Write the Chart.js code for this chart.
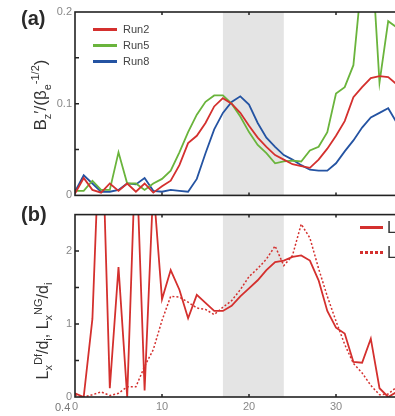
<!DOCTYPE html>
<html lang="en">
<head>
    <meta charset="UTF-8">
    <title>Bz and Lx profiles</title>
    <style>
        html, body {
            margin: 0;
            padding: 0;
            background: #fff;
            overflow: hidden;
            width: 395px;
            height: 416px;
            font-family: Arial, "Liberation Sans", sans-serif;
        }
        .page {
            position: relative;
            width: 395px;
            height: 416px;
            overflow: hidden;
        }
        canvas {
            position: absolute;
            left: 0;
        }
        #chartA { top: 0; }
        #chartB { top: 205px; }
        .panel-label {
            position: absolute;
            left: 21px;
            font-size: 20px;
            font-weight: bold;
            color: #2a2a2a;
        }
        .ytitle {
            position: absolute;
            transform: translate(-50%, -50%) rotate(-90deg);
            white-space: nowrap;
            color: #333;
            font-size: 17px;
        }
        .ytitle sub, .ytitle sup { font-size: 11px; }
        .legend-item {
            position: absolute;
            white-space: nowrap;
            color: #444;
            font-size: 11px;
        }
        .legend-item .swatch {
            position: absolute;
            left: 0;
            top: 50%;
            width: 24px;
            height: 3px;
            margin-top: -1.5px;
        }
        .legend-item .txt {
            position: absolute;
            left: 30px;
            top: 50%;
            transform: translateY(-50%);
        }
        .odd-label {
            position: absolute;
            left: 55px;
            top: 401px;
            font-size: 11px;
            color: #777;
        }
    </style>
</head>
<body>
<div class="page">
    <canvas id="chartA" width="440" height="205"></canvas>
    <canvas id="chartB" width="440" height="211"></canvas>

    <div class="panel-label" style="top:7px;">(a)</div>
    <div class="panel-label" style="top:203px;">(b)</div>

    <div class="ytitle" style="left:41px; top:95px;">B<sub>z</sub>&prime;/(&beta;<sub>e</sub><sup>-1/2</sup>)</div>
    <div class="ytitle" style="left:43px; top:331px; font-size:16px;">L<sub>x</sub><sup>Df</sup>/d<sub>i</sub>, L<sub>x</sub><sup>NG</sup>/d<sub>i</sub></div>

    <div id="legendA"></div>
    <div id="legendB"></div>
    <div class="odd-label">0.4</div>
</div>

<script src="https://cdn.jsdelivr.net/npm/chart.js"></script>
<script>
    // x positions (shared by both panels)
    const xValues = [0,1,2,3,4,5,6,7,8,9,10,11,12,13,14,15,16,17,18,19,20,21,22,23,24,25,26,27,28,29,30,31,32,33,34,35,36,37];

    // panel (a): Bz'/(beta_e^-1/2)
    const run2 = [0.002,0.019,0.006,0.003,0.013,0.005,0.013,0.004,0.013,0.003,0.010,0.016,0.033,0.057,0.065,0.079,0.097,0.106,0.100,0.090,0.076,0.063,0.053,0.044,0.039,0.034,0.032,0.030,0.039,0.051,0.065,0.081,0.107,0.118,0.128,0.130,0.129,0.121];
    const run5 = [0.005,0.005,0.016,0.006,0.006,0.047,0.013,0.013,0.006,0.013,0.018,0.027,0.047,0.069,0.088,0.102,0.109,0.109,0.100,0.086,0.069,0.055,0.046,0.035,0.037,0.038,0.037,0.049,0.053,0.069,0.111,0.118,0.142,0.24,0.28,0.123,0.190,0.183];
    const run8 = [0.004,0.022,0.013,0.004,0.004,0.006,0.013,0.012,0.019,0.005,0.004,0.006,0.005,0.004,0.018,0.046,0.072,0.090,0.102,0.108,0.099,0.079,0.063,0.053,0.044,0.039,0.033,0.028,0.027,0.027,0.035,0.048,0.060,0.074,0.085,0.090,0.095,0.079];

    // panel (b): Lx^Df/di (solid) and Lx^NG/di (dotted)
    const lxDf = [0.05,0.0,1.07,4.2,0.12,1.78,0.0,3.5,0.09,2.9,1.34,1.74,1.47,1.08,1.40,1.29,1.18,1.18,1.25,1.38,1.49,1.60,1.74,1.85,1.87,1.92,1.94,1.87,1.60,1.18,0.95,0.87,0.48,0.47,0.80,0.12,0.0,0.07];
    const lxNG = [0.03,0.0,0.03,0.07,0.02,0.05,0.14,0.14,0.42,0.65,1.05,1.38,1.37,1.30,1.22,1.20,1.13,1.23,1.32,1.47,1.65,1.76,1.89,2.07,1.80,1.94,2.37,2.18,1.76,1.38,1.04,0.72,0.46,0.33,0.16,0.03,0.04,0.14];

    const runNames = ['Run2', 'Run5', 'Run8'];
    const lxNames = ['L<sub>x</sub><sup>Df</sup>/d<sub>i</sub>', 'L<sub>x</sub><sup>NG</sup>/d<sub>i</sub>'];

    // axis ticks and shaded window
    const xTicks = [10, 20, 30];
    const yTicksA = [0.05, 0.1, 0.15];
    const yTicksB = [0.5, 1, 1.5, 2];
    const shadeRange = [17, 24];

    const RED = '#d4302e';
    const GREEN = '#6ab43c';
    const BLUE = '#2453a2';

    function toPoints(ys) {
        return xValues.map((x, i) => ({ x: x, y: ys[i] }));
    }

    // grey band + frame with inward ticks
    function framePlugin(yTicks) {
        return {
            id: 'frame',
            beforeDatasetsDraw(chart) {
                const { ctx, chartArea: a, scales } = chart;
                const x0 = scales.x.getPixelForValue(shadeRange[0]);
                const x1 = scales.x.getPixelForValue(shadeRange[1]);
                ctx.save();
                ctx.fillStyle = '#e4e4e4';
                ctx.fillRect(x0, a.top, x1 - x0, a.bottom - a.top);
                ctx.restore();
            },
            afterDraw(chart) {
                const { ctx, chartArea: a, scales } = chart;
                ctx.save();
                ctx.strokeStyle = '#222';
                ctx.lineWidth = 1.6;
                ctx.strokeRect(a.left, a.top, a.right - a.left, a.bottom - a.top);
                ctx.lineWidth = 1.5;
                ctx.beginPath();
                xTicks.forEach(v => {
                    const px = scales.x.getPixelForValue(v);
                    ctx.moveTo(px, a.top); ctx.lineTo(px, a.top + 3);
                    ctx.moveTo(px, a.bottom); ctx.lineTo(px, a.bottom - 3);
                });
                yTicks.forEach(v => {
                    const py = scales.y.getPixelForValue(v);
                    ctx.moveTo(a.left, py); ctx.lineTo(a.left + 4, py);
                    ctx.moveTo(a.right, py); ctx.lineTo(a.right - 4, py);
                });
                ctx.stroke();
                ctx.restore();
            }
        };
    }

    const tickFont = { family: 'Arial', size: 11 };

    new Chart(document.getElementById('chartA'), {
        type: 'line',
        data: {
            datasets: [
                { label: runNames[0], data: toPoints(run2), borderColor: RED, borderWidth: 1.8, pointRadius: 0, tension: 0 },
                { label: runNames[1], data: toPoints(run5), borderColor: GREEN, borderWidth: 1.8, pointRadius: 0, tension: 0 },
                { label: runNames[2], data: toPoints(run8), borderColor: BLUE, borderWidth: 1.8, pointRadius: 0, tension: 0 }
            ]
        },
        options: {
            responsive: false,
            animation: false,
            layout: { padding: { top: 12, right: 17, left: 0, bottom: 0 } },
            plugins: { legend: { display: false }, tooltip: { enabled: false } },
            scales: {
                x: {
                    type: 'linear', min: 0, max: 40,
                    grid: { display: false, drawTicks: false }, border: { display: false },
                    ticks: { display: false, stepSize: 10 },
                    afterFit: s => { s.height = 3; }
                },
                y: {
                    min: 0, max: 0.2,
                    grid: { display: false, drawTicks: false }, border: { display: false },
                    ticks: {
                        stepSize: 0.05, color: '#888', font: tickFont, padding: 3,
                        callback: v => (Math.abs(v * 10 - Math.round(v * 10)) < 1e-6 ? String(Math.round(v * 10) / 10) : '')
                    },
                    afterFit: s => { s.width = 75; }
                }
            }
        },
        plugins: [framePlugin(yTicksA)]
    });

    new Chart(document.getElementById('chartB'), {
        type: 'line',
        data: {
            datasets: [
                { label: 'LxDf', data: toPoints(lxDf), borderColor: RED, borderWidth: 1.8, pointRadius: 0, tension: 0 },
                { label: 'LxNG', data: toPoints(lxNG), borderColor: RED, borderWidth: 1.5, borderDash: [2, 2], pointRadius: 0, tension: 0 }
            ]
        },
        options: {
            responsive: false,
            animation: false,
            layout: { padding: { top: 5, right: 17, left: 0, bottom: 0 } },
            plugins: { legend: { display: false }, tooltip: { enabled: false } },
            scales: {
                x: {
                    type: 'linear', min: 0, max: 40,
                    grid: { display: false, drawTicks: false }, border: { display: false },
                    ticks: { stepSize: 10, color: '#888', font: tickFont, padding: 3, maxRotation: 0 },
                    afterFit: s => { s.height = 19; }
                },
                y: {
                    min: 0, max: 2.5,
                    grid: { display: false, drawTicks: false }, border: { display: false },
                    ticks: {
                        stepSize: 0.5, color: '#888', font: tickFont, padding: 3,
                        callback: v => (Number.isInteger(v) ? String(v) : '')
                    },
                    afterFit: s => { s.width = 75; }
                }
            }
        },
        plugins: [framePlugin(yTicksB)]
    });

    // legends
    const legendA = document.getElementById('legendA');
    [RED, GREEN, BLUE].forEach((c, i) => {
        const el = document.createElement('div');
        el.className = 'legend-item';
        el.style.left = '93px';
        el.style.top = (22 + i * 16) + 'px';
        el.style.height = '14px';
        el.innerHTML = '<div class="swatch" style="background:' + c + '"></div><div class="txt">' + runNames[i] + '</div>';
        legendA.appendChild(el);
    });

    const legendB = document.getElementById('legendB');
    lxNames.forEach((name, i) => {
        const el = document.createElement('div');
        el.className = 'legend-item';
        el.style.left = '360px';
        el.style.top = (218 + i * 25) + 'px';
        el.style.height = '18px';
        el.style.fontSize = '16px';
        el.style.color = '#333';
        const bg = i === 0 ? RED : 'repeating-linear-gradient(90deg,' + RED + ' 0 3px, transparent 3px 5px)';
        el.innerHTML = '<div class="swatch" style="width:23px;background:' + bg + '"></div><div class="txt" style="left:27px">' + name + '</div>';
        legendB.appendChild(el);
    });
</script>
</body>
</html>
